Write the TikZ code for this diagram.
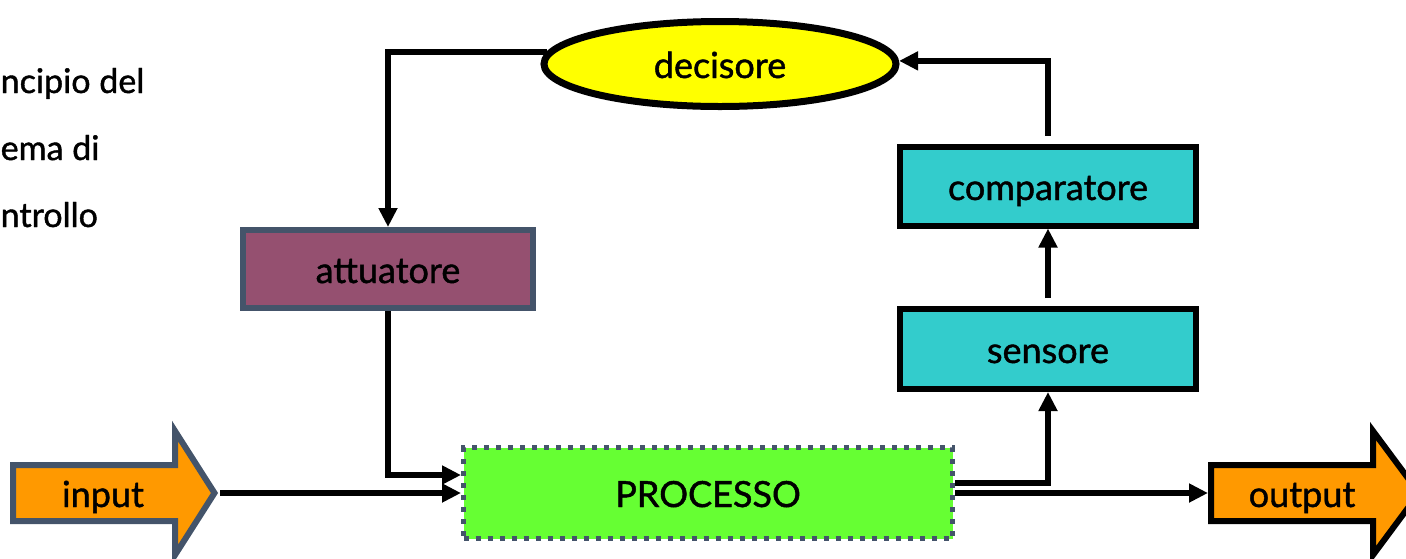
\documentclass[tikz,border=0pt]{standalone}
\usepackage{fontspec}
\setmainfont{Lato}[FakeBold=1.2]
\usetikzlibrary{arrows.meta,shapes.geometric}

\definecolor{slate}{HTML}{44546A}
\definecolor{mauve}{HTML}{955070}
\definecolor{procgreen}{HTML}{66FF33}
\definecolor{teal}{HTML}{33CCCC}
\definecolor{amber}{HTML}{FF9900}
\definecolor{lemon}{HTML}{FFFF00}

\tikzset{
  conn/.style={line width=6pt, draw=black, -{Triangle[length=19pt,width=18pt]}},
  lbl/.style={inner sep=0pt, text height=34pt, text depth=6pt,
              font=\fontsize{36pt}{40pt}\selectfont},
  sidetext/.style={anchor=base west, inner sep=0pt,
              font=\fontsize{34pt}{40pt}\selectfont},
  blockbox/.style={lbl, rectangle, draw=black, fill=teal, line width=6pt,
              minimum width=296pt, minimum height=79pt},
  bigarrow/.style={line width=6pt, line join=miter, fill=amber},
}

\begin{document}
\begin{tikzpicture}[x=1pt, y=-1pt]
\useasboundingbox (0,0) rectangle (1406,558);

% title fragment on the left
\node[sidetext] (t1) at (0.5,93) {ncipio del};
\node[sidetext] (t2) at (0.5,160) {ema di};
\node[sidetext] (t3) at (0.5,227) {ntrollo};

% control chain
\node[lbl, ellipse, draw=black, fill=lemon, line width=7pt,
      minimum width=352pt, minimum height=85pt] (dec) at (720,64) {decisore};
\node[lbl, rectangle, draw=slate, fill=mauve, line width=6pt,
      minimum width=290pt, minimum height=78pt] (act) at (388,269) {attuatore};
\node[blockbox] (cmp) at (1048,186) {comparatore};
\node[blockbox, minimum height=80pt] (sen) at (1048,349) {sensore};
\node[lbl, rectangle, draw=slate, fill=procgreen, line width=5pt,
      dash pattern=on 5pt off 7pt,
      minimum width=489pt, minimum height=91pt] (proc) at (708,493) {PROCESSO};

% input / output block arrows
\path[bigarrow, draw=slate]
  (13,465) -- (175,465) -- (175,431) -- (214.5,493)
  -- (175,555) -- (175,521) -- (13,521) -- cycle;
\node[lbl] (input) at (103,493) {input};
\coordinate (inTip) at (220,493);

\path[bigarrow, draw=black]
  (1211,465) -- (1373,465) -- (1373,431) -- (1419,493)
  -- (1373,555) -- (1373,521) -- (1211,521) -- cycle;
\node[lbl] (output) at (1302,493) {output};
\coordinate (outTail) at (1208,493);

% connectors
\draw[conn] (dec.176) -| (act.north);
\draw[conn] (act.south) |- ([yshift=18pt]proc.west);
\draw[conn] (inTip) -- (proc.west);
\draw[conn] ([yshift=10pt]proc.east) -| (sen.south);
\draw[conn] (proc.east) -- (outTail);
\draw[conn, shorten <=8pt] (sen.north) -- (cmp.south);
\draw[conn, shorten <=8pt] (cmp.north) |- (dec.1);
\end{tikzpicture}
\end{document}
